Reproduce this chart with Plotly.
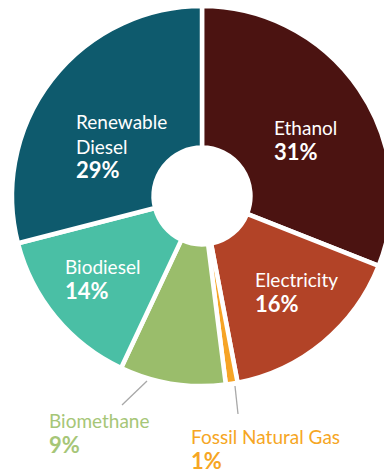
import plotly.graph_objects as go

# ---- data ----
categories = ["Ethanol", "Electricity", "Fossil Natural Gas", "Biomethane", "Biodiesel", "Renewable Diesel"]
shares = [31, 16, 1, 9, 14, 29]
label_lines = ["Ethanol", "Electricity", "Fossil Natural Gas", "Biomethane", "Biodiesel", "Renewable<br>Diesel"]
colors = ["#4B1311", "#B24327", "#F6A426", "#9ABD6B", "#4ABFA5", "#0E5A6D"]
text_colors = ["#FFFFFF", "#FFFFFF", "#F6A623", "#A6C677", "#FFFFFF", "#FFFFFF"]

W, H = 404, 474  # figure slightly wider than the window: right edge of the pie is cropped as in the reference
CX, CY, R = 202, 196, 190

def px(x, y):
    return x / W, 1 - y / H

fig = go.Figure(go.Pie(
    labels=categories,
    values=shares,
    sort=False,
    direction="clockwise",
    rotation=0,
    hole=0.255,
    marker=dict(colors=colors, line=dict(color="white", width=4.5)),
    textinfo="none",
    showlegend=False,
    hoverinfo="none",
    domain=dict(x=[(CX - R) / W, (CX + R) / W], y=[1 - (CY + R) / H, 1 - (CY - R) / H]),
))

# label placement (left x, vertical centre y) in pixels
label_pos = {
    "Ethanol": (272, 140.5),
    "Electricity": (253, 292.5),
    "Fossil Natural Gas": (189, 449),
    "Biomethane": (47, 433),
    "Biodiesel": (63, 279.5),
    "Renewable Diesel": (74, 146),
}

for cat, lab, val, tc in zip(categories, label_lines, shares, text_colors):
    x, y = label_pos[cat]
    xp, yp = px(x, y)
    fig.add_annotation(
        x=xp, y=yp, xref="paper", yref="paper",
        xanchor="left", yanchor="middle", align="left",
        showarrow=False,
        text=f"{lab}<br><b><span style='font-size:22px'>{val}%</span></b>",
        font=dict(family="Lato, sans-serif", size=19, color=tc),
    )

# leader lines for the outside labels
for (x0, y0, x1, y1) in [(147, 381, 122, 405), (235, 386, 238, 414)]:
    a = px(x0, y0)
    b = px(x1, y1)
    fig.add_shape(type="line", xref="paper", yref="paper",
                  x0=a[0], y0=a[1], x1=b[0], y1=b[1],
                  line=dict(color="#A8A8A8", width=1.3))

fig.update_layout(
    width=W, height=H,
    margin=dict(l=0, r=0, t=0, b=0),
    paper_bgcolor="white", plot_bgcolor="white",
)

fig.write_html(
    "out.html",
    config={"displayModeBar": False},
    post_script="document.body.style.margin='0';document.body.style.overflow='hidden';",
)
